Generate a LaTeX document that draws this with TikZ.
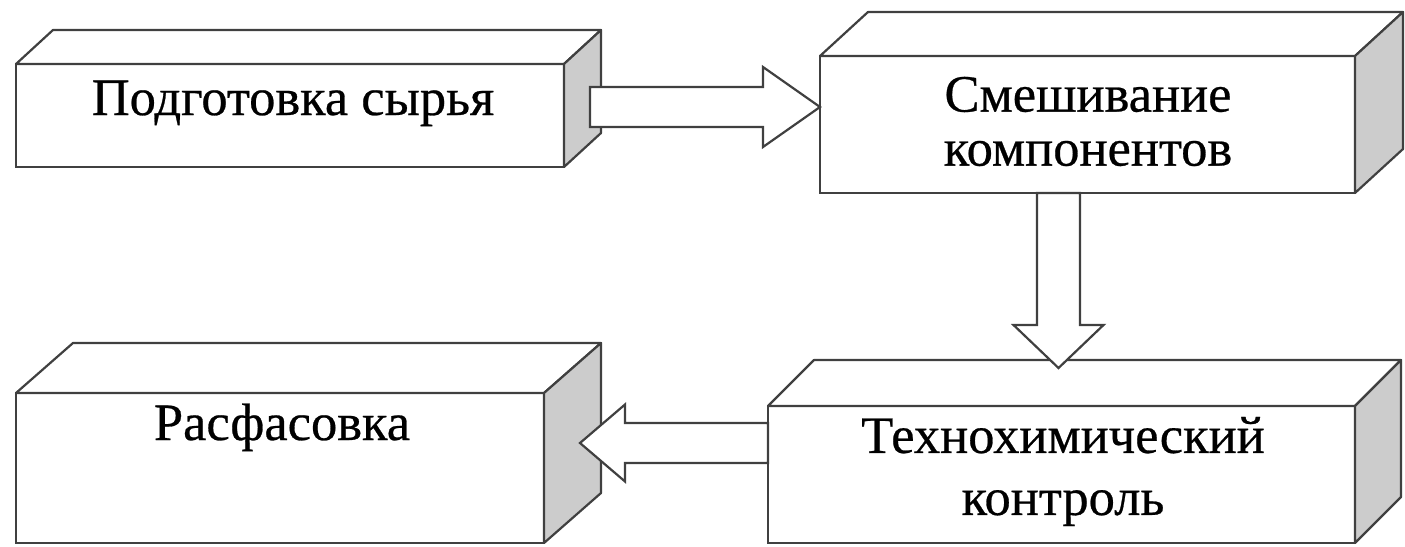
\documentclass[tikz,border=0pt]{standalone}
\usepackage{fontspec}
\setmainfont{Liberation Serif}
\newfontfamily\lblfont{Liberation Serif}[FakeBold=0.5]
\usetikzlibrary{calc}
\definecolor{edgecol}{gray}{0.25}
\definecolor{sidegray}{gray}{0.8}
\tikzset{
  face/.style={draw=edgecol, line width=2.2pt, fill=white, inner sep=0pt, outer sep=0pt, rectangle},
  topface/.style={draw=edgecol, line width=2.2pt, fill=white, line join=round},
  sideface/.style={draw=edgecol, line width=2.2pt, fill=sidegray, line join=round},
  blockarrow/.style={draw=edgecol, line width=2.2pt, fill=white, line join=miter},
  lbl/.style={font=\lblfont\fontsize{52.5}{54}\selectfont, align=center, text=black, inner sep=0pt},
}
\newcommand{\cuboidfaces}[3]{%
  \draw[topface] (#1.north west) -- ++(#2,-#3) -- ($(#1.north east)+(#2,-#3)$) -- (#1.north east) -- cycle;
  \draw[sideface] (#1.north east) -- ++(#2,-#3) -- ($(#1.south east)+(#2,-#3)$) -- (#1.south east) -- cycle;
}
\begin{document}
\begin{tikzpicture}[x=1pt,y=-1pt]
  \useasboundingbox (0,0) rectangle (1405,546);
  % front faces
  \node[face, minimum width=548pt, minimum height=103pt] (b1) at (290,115.5) {};
  \node[face, minimum width=535pt, minimum height=137pt] (b2) at (1087.5,124.5) {};
  \node[face, minimum width=587pt, minimum height=137pt] (b3) at (1061.5,474.5) {};
  \node[face, minimum width=528pt, minimum height=150pt] (b4) at (280,468) {};
  % 3D faces
  \cuboidfaces{b1}{37}{34}
  \cuboidfaces{b2}{48}{44}
  \cuboidfaces{b3}{46}{46}
  \cuboidfaces{b4}{57}{50}
  % labels
  \node[lbl, anchor=base] (t1) at (293,115) {Подготовка сырья};
  \node[lbl] (t2) at (1088,121.5) {Смешивание\\компонентов};
  \node[lbl, font=\lblfont\fontsize{52.5}{62}\selectfont] (t3) at (1063,471.5) {Технохимический\\контроль};
  \node[lbl, anchor=base] (t4) at (282,440) {Расфасовка};
  % block arrows
  % arrow 1: b1 -> b2
  \coordinate (a1s) at ($(b1.north east)+(26,-8)$);
  \coordinate (a1e) at ($(b2.north west)+(0,51)$);
  \draw[blockarrow] let \p1=(a1s), \p2=(a1e) in
    (\x1,\y2-20) -- (\x2-57,\y2-20) -- (\x2-57,\y2-40) -- (\x2,\y2) -- (\x2-57,\y2+40)
    -- (\x2-57,\y2+20) -- (\x1,\y2+20) -- cycle;
  % arrow 2: b2 -> b3
  \coordinate (a2s) at ($(b2.south west)+(238.5,0)$);
  \coordinate (a2e) at ($(b3.north west)+(290.5,-38)$);
  \draw[blockarrow] let \p1=(a2s), \p2=(a2e) in
    (\x1-21.5,\y1) -- (\x1+21.5,\y1) -- (\x1+21.5,\y2+43) -- (\x1+45,\y2+43) -- (\x1,\y2)
    -- (\x1-45,\y2+43) -- (\x1-21.5,\y2+43) -- cycle;
  % arrow 3: b3 -> b4
  \coordinate (a3s) at ($(b3.north west)+(0,37)$);
  \coordinate (a3e) at ($(b4.north east)+(36,50)$);
  \draw[blockarrow] let \p1=(a3s), \p2=(a3e) in
    (\x1,\y1-20) -- (\x2+45,\y1-20) -- (\x2+45,\y1-38.5) -- (\x2,\y1) -- (\x2+45,\y1+38.5)
    -- (\x2+45,\y1+20) -- (\x1,\y1+20) -- cycle;
\end{tikzpicture}
\end{document}
